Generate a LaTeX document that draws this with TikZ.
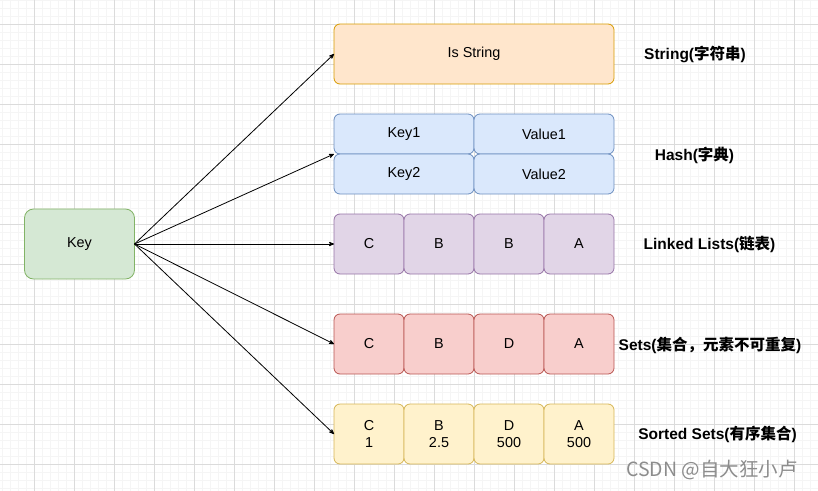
\documentclass[tikz,border=0pt]{standalone}
\usepackage{fontspec}
\setmainfont{Liberation Sans}
\newfontfamily\cjk{Noto Sans CJK SC}
\usetikzlibrary{arrows,positioning}

\definecolor{keyfill}{HTML}{D5E8D4}\definecolor{keyline}{HTML}{82B366}
\definecolor{strfill}{HTML}{FFE6CC}\definecolor{strline}{HTML}{D79B00}
\definecolor{hashfill}{HTML}{DAE8FC}\definecolor{hashline}{HTML}{6C8EBF}
\definecolor{listfill}{HTML}{E1D5E7}\definecolor{listline}{HTML}{9673A6}
\definecolor{setfill}{HTML}{F8CECC}\definecolor{setline}{HTML}{B85450}
\definecolor{zsetfill}{HTML}{FFF2CC}\definecolor{zsetline}{HTML}{D6B656}

\tikzset{
  box/.style={draw, rectangle, rounded corners=6pt, line width=0.8pt,
    inner sep=0pt, outer sep=0pt, align=center,
    font=\fontsize{14.4}{16.5}\selectfont},
  cell/.style={box, minimum width=70pt, minimum height=60pt},
  kv/.style={box, minimum width=140pt, minimum height=40pt, fill=hashfill, draw=hashline},
  tag/.style={font=\fontsize{15.5}{17}\selectfont\bfseries}
}

\begin{document}
\begin{tikzpicture}[x=1pt,y=-1pt,>=stealth',node distance=0pt]
   \useasboundingbox (0,0) rectangle (818,490);
   % background grid
   \begin{scope}
     \clip (0,0) rectangle (818,490);
     \draw[shift={(-6,-16)},step=8pt,line width=0.6pt,black!4] (0,0) grid (840,520);
     \draw[shift={(-6,-16)},step=40pt,line width=0.8pt,black!14] (0,0) grid (840,520);
   \end{scope}

   \node[box,fill=keyfill,draw=keyline,minimum width=110pt,minimum height=70pt,rounded corners=9pt]
        (key) at (79.5,244) {Key};

   % string
   \node[box,fill=strfill,draw=strline,minimum width=280pt,minimum height=60pt]
        (str) at (474,54) {Is String};

   % hash
   \node[kv] (k1) at (404,134) {Key1};
   \node[kv] (v1) [right=of k1] {Value1};
   \node[kv] (k2) [below=of k1] {Key2};
   \node[kv] (v2) [right=of k2] {Value2};

   % linked list
   \node[cell,fill=listfill,draw=listline] (l1) at (369,244) {C};
   \node[cell,fill=listfill,draw=listline] (l2) [right=of l1] {B};
   \node[cell,fill=listfill,draw=listline] (l3) [right=of l2] {B};
   \node[cell,fill=listfill,draw=listline] (l4) [right=of l3] {A};

   % set
   \node[cell,fill=setfill,draw=setline] (s1) at (369,344) {C};
   \node[cell,fill=setfill,draw=setline] (s2) [right=of s1] {B};
   \node[cell,fill=setfill,draw=setline] (s3) [right=of s2] {D};
   \node[cell,fill=setfill,draw=setline] (s4) [right=of s3] {A};

   % sorted set
   \node[cell,fill=zsetfill,draw=zsetline] (z1) at (369,434) {C\\1};
   \node[cell,fill=zsetfill,draw=zsetline] (z2) [right=of z1] {B\\2.5};
   \node[cell,fill=zsetfill,draw=zsetline] (z3) [right=of z2] {D\\500};
   \node[cell,fill=zsetfill,draw=zsetline] (z4) [right=of z3] {A\\500};

   \node[tag] (tstr)  at (695,54)  {String({\cjk 字符串})};
   \node[tag] (thash) at (694.5,155) {Hash({\cjk 字典})};
   \node[tag] (tlist) at (709.5,244) {Linked Lists({\cjk 链表})};
   \node[tag] (tset)  at (710,345) {Sets({\cjk 集合，元素不可重复})};
   \node[tag] (tzset) at (717.5,434) {Sorted Sets({\cjk 有序集合})};
   \node[text=black!45,font=\fontsize{19.5}{21}\selectfont\cjk] (mark) at (712,470) {CSDN @自大狂小卢};

   \path[->,line width=0.8pt] (key.east) edge (str.west)
                                         edge (k1.south west)
                                         edge (l1.west)
                                         edge (s1.west)
                                         edge (z1.west);
\end{tikzpicture}
\end{document}
